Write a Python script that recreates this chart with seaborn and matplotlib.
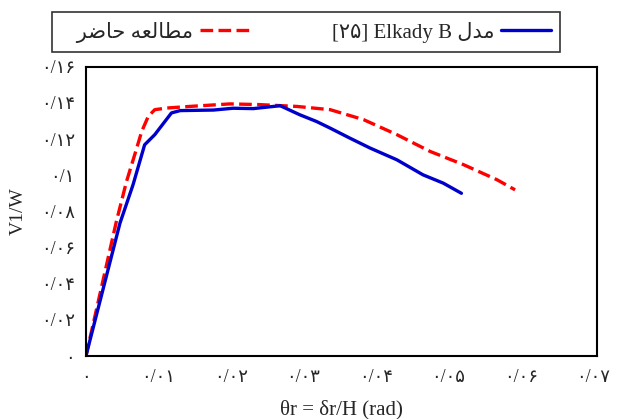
import numpy as np
import pandas as pd
import matplotlib
matplotlib.use("Agg")
import matplotlib.pyplot as plt
import seaborn as sns

# datos
x_elkady = [0, 0.0047, 0.0065, 0.0081, 0.0095, 0.0118, 0.0130, 0.0176, 0.0203, 0.0231,
            0.0268, 0.0295, 0.0318, 0.0337, 0.0364, 0.0392, 0.0429, 0.0465, 0.0493, 0.0518]
y_elkady = [0, 0.0735, 0.0947, 0.1168, 0.1224, 0.1344, 0.1357, 0.1360, 0.1370, 0.1368,
            0.1384, 0.1334, 0.1297, 0.1260, 0.1205, 0.1150, 0.1085, 0.1002, 0.0956, 0.0900]

x_actual = [0, 0.0042, 0.0056, 0.0068, 0.0077, 0.0086, 0.0095, 0.0111, 0.0143, 0.0199,
            0.0240, 0.0291, 0.0337, 0.0383, 0.0429, 0.0475, 0.0521, 0.0567, 0.0592]
y_actual = [0, 0.0744, 0.0965, 0.1122, 0.1242, 0.1325, 0.1362, 0.1371, 0.1380, 0.1394,
            0.1390, 0.1380, 0.1362, 0.1307, 0.1224, 0.1131, 0.1058, 0.0975, 0.0919]

xticks = [0, 0.01, 0.02, 0.03, 0.04, 0.05, 0.06, 0.07]
xtick_labels = ["۰", "۰/۰۱", "۰/۰۲", "۰/۰۳", "۰/۰۴", "۰/۰۵", "۰/۰۶", "۰/۰۷"]
yticks = [0, 0.02, 0.04, 0.06, 0.08, 0.10, 0.12, 0.14, 0.16]
ytick_labels = ["۰", "۰/۰۲", "۰/۰۴", "۰/۰۶", "۰/۰۸", "۰/۱", "۰/۱۲", "۰/۱۴", "۰/۱۶"]

# textos persas ya en formas de presentacion y orden visual
label_elkady = "[۲۵] Elkady B " + "\uFEDD\uFEAA\uFEE3"
label_actual = "\uFEAE\uFEBF\uFE8E\uFEA3 \uFEEA\uFECC\uFEDF\uFE8E\uFEC4\uFEE3"

sns.set_style("white")
plt.rcParams["font.family"] = ["Liberation Serif", "DejaVu Sans"]

df_elkady = pd.DataFrame({"x": x_elkady, "y": y_elkady})
df_actual = pd.DataFrame({"x": x_actual, "y": y_actual})

fig = plt.figure(figsize=(6.18, 4.19), dpi=100)
ax = fig.add_axes([0.139, 0.150, 0.827, 0.691])

sns.lineplot(data=df_actual, x="x", y="y", ax=ax, color="#ff0000", lw=2.4,
             label="   " + label_actual, sort=False)
sns.lineplot(data=df_elkady, x="x", y="y", ax=ax, color="#0000cc", lw=2.4,
             label=label_elkady, sort=False)
ax.lines[0].set_dashes([3.8, 1.6])

ax.set_xlim(0, 0.0705)
ax.set_ylim(0, 0.16)
ax.set_xticks(xticks)
ax.set_xticklabels(xtick_labels, fontsize=13)
ax.set_yticks(yticks)
ax.set_yticklabels(ytick_labels, fontsize=13)
ax.tick_params(length=0)
ax.tick_params(axis="x", pad=9)
ax.tick_params(axis="y", pad=8)
for s in ax.spines.values():
    s.set_color("black")
    s.set_linewidth(1.5)

ax.set_xlabel("θr = δr/H (rad)", fontsize=15, labelpad=10)
ax.set_ylabel("V1/W", fontsize=14, labelpad=10)

leg = ax.legend(loc="lower left", bbox_to_anchor=(-0.0665, 1.05, 0.994, 0.138),
                mode="expand", ncol=2, markerfirst=False, fancybox=False,
                edgecolor="black", fontsize=15, handlelength=2.4, borderaxespad=0,
                borderpad=0.45, handletextpad=0.3)
leg.get_frame().set_linewidth(1.2)

plt.savefig("out.png", dpi=100)
